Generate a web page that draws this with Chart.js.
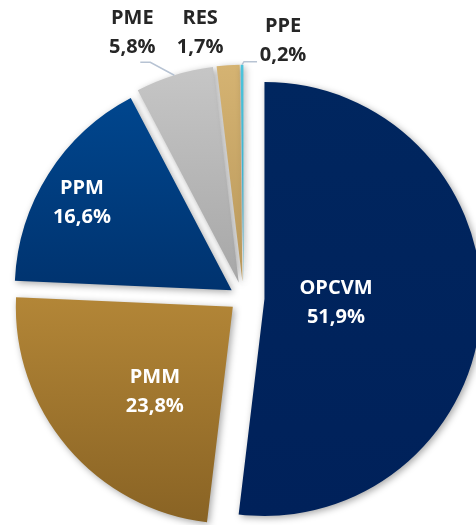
<!DOCTYPE html>
<html>
<head>
<meta charset="utf-8">
<script src="https://cdn.jsdelivr.net/npm/chart.js@4.4.1/dist/chart.umd.min.js"></script>
<style>
    html, body { margin: 0; padding: 0; background: #fff; overflow: hidden; }
    #wrap { width: 476px; height: 525px; position: relative; }
</style>
</head>
<body>
<div id="wrap"><canvas id="pieChart"></canvas></div>
<script>
// data
const categories = ['OPCVM', 'PMM', 'PPM', 'PME', 'RES', 'PPE'];
const shares = [51.9, 23.8, 16.6, 5.8, 1.7, 0.2];

// styles
const topColors = ['#00265F', '#B38637', '#00468E', '#C6C6C6', '#D5B372', '#4CC4DC'];
const bottomColors = ['#00215A', '#896324', '#00336F', '#A7A7A7', '#B9985B', '#2AA6C4'];
const explode = [21, 14, 14, 16, 16, 16];
// inside labels: fraction of radius + angle shift (deg); outside: offset from arc edge
const insideLabel = [[0.33, 0], [0.53, -7], [0.80, -2], null, null, null];
const outsideLabel = [null, null, null, [-42, -42], [-28, -32], [41, -24]];
const leaders = [null, null, null, [[0, 0], [-24, -13], [-34, -13]], null, [[0, 0], [2, -3], [15, -3]]];

const FONT = 'bold 20px "Open Sans"';

function fmt(v) {
    return v.toFixed(1).replace('.', ',') + '%';
}

const piePlugin = {
    id: 'piePlugin',
    afterDatasetsUpdate(chart) {
        const ctx = chart.ctx;
        const meta = chart.getDatasetMeta(0);
        meta.data.forEach((arc, i) => {
            const mid = (arc.startAngle + arc.endAngle) / 2;
            arc.x = arc.x + Math.cos(mid) * explode[i];
            arc.y = arc.y + Math.sin(mid) * explode[i];
            const ys = [arc.y];
            for (let k = 0; k <= 24; k++) {
                const a = arc.startAngle + (arc.endAngle - arc.startAngle) * k / 24;
                ys.push(arc.y + Math.sin(a) * arc.outerRadius);
            }
            const g = ctx.createLinearGradient(0, Math.min(...ys), 0, Math.max(...ys));
            g.addColorStop(0, topColors[i]);
            g.addColorStop(1, bottomColors[i]);
            arc.options.backgroundColor = g;
        });
    },
    beforeDatasetsDraw(chart) {
        const ctx = chart.ctx;
        ctx.save();
        ctx.shadowColor = 'rgba(0,0,0,0.35)';
        ctx.shadowBlur = 7;
        ctx.shadowOffsetX = 2;
        ctx.shadowOffsetY = 2;
    },
    afterDatasetsDraw(chart) {
        const ctx = chart.ctx;
        ctx.restore();
        const meta = chart.getDatasetMeta(0);
        ctx.save();
        ctx.font = FONT;
        ctx.textAlign = 'center';
        ctx.textBaseline = 'middle';
        meta.data.forEach((arc, i) => {
            const mid = (arc.startAngle + arc.endAngle) / 2;
            const R = arc.outerRadius;
            let cx, cy;
            if (insideLabel[i]) {
                const a = mid + insideLabel[i][1] * Math.PI / 180;
                cx = arc.x + Math.cos(a) * R * insideLabel[i][0];
                cy = arc.y + Math.sin(a) * R * insideLabel[i][0];
                ctx.fillStyle = '#ffffff';
            } else {
                const ox = arc.x + Math.cos(mid) * R;
                const oy = arc.y + Math.sin(mid) * R;
                if (leaders[i]) {
                    ctx.strokeStyle = '#B7C3D3';
                    ctx.lineWidth = 1.5;
                    ctx.beginPath();
                    leaders[i].forEach((p, k) => {
                        if (k === 0) ctx.moveTo(ox + p[0], oy + p[1]);
                        else ctx.lineTo(ox + p[0], oy + p[1]);
                    });
                    ctx.stroke();
                }
                cx = ox + outsideLabel[i][0];
                cy = oy + outsideLabel[i][1];
                ctx.fillStyle = '#262626';
            }
            ctx.fillText(categories[i], cx, cy - 14.5);
            ctx.fillText(fmt(shares[i]), cx, cy + 14.5);
        });
        ctx.restore();
    }
};

new Chart(document.getElementById('pieChart'), {
    type: 'pie',
    data: {
        labels: categories,
        datasets: [{
            data: shares,
            backgroundColor: topColors,
            borderWidth: 0,
            hoverOffset: 0
        }]
    },
    options: {
        responsive: true,
        maintainAspectRatio: false,
        animation: false,
        devicePixelRatio: 1,
        layout: { padding: { left: 26.5, right: 15.5, top: 80.7, bottom: 10.3 } },
        plugins: {
            legend: { display: false },
            tooltip: { enabled: false }
        }
    },
    plugins: [piePlugin]
});
</script>
</body>
</html>
